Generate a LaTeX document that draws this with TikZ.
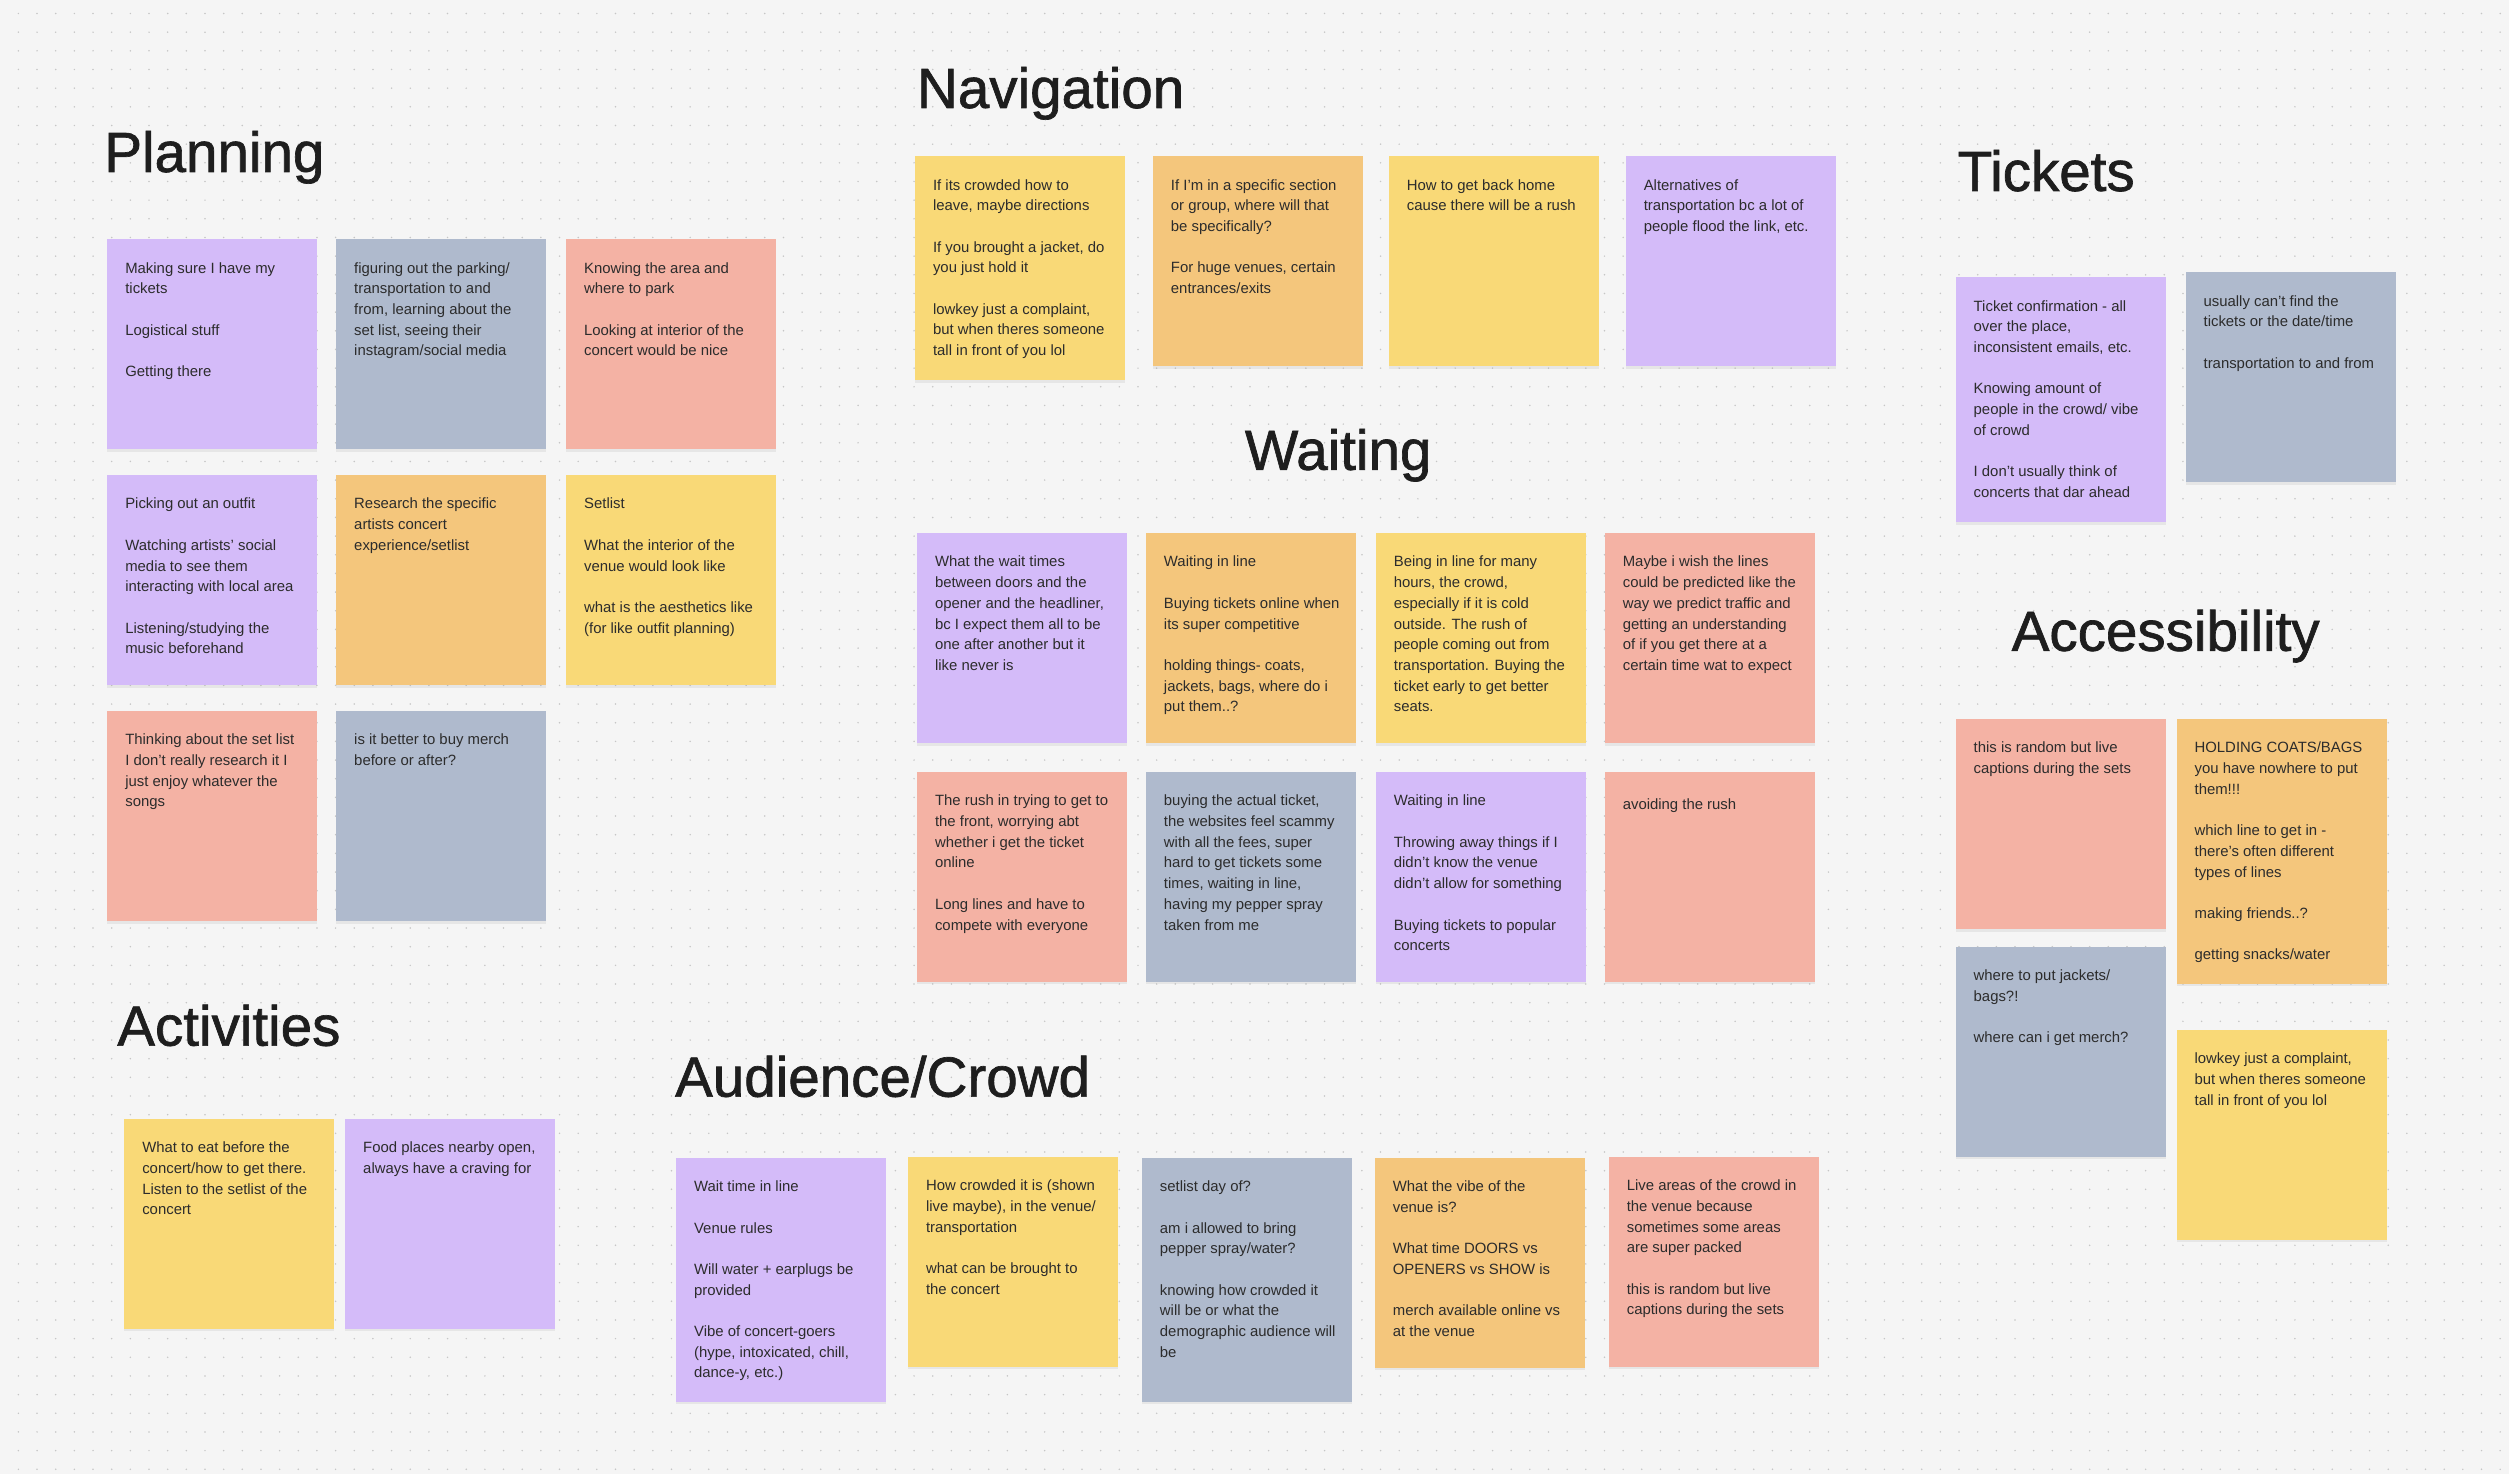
\documentclass[tikz,border=0pt]{standalone}
\usepackage{fontspec}
\setmainfont{Liberation Sans}
\newfontfamily\headfont[BoldFont={Liberation Sans}, BoldFeatures={FakeBold=1.2}]{Liberation Sans}
\usepackage{xcolor}
\usepackage{tikz}
\usetikzlibrary{positioning,shadows}

\definecolor{paper}{HTML}{F5F5F5}
\definecolor{dotgrey}{HTML}{C6C6C6}
\definecolor{ink}{HTML}{2C2C2C}
\definecolor{title}{HTML}{1E1E1E}
\definecolor{lilac}{HTML}{D4BBF9}
\definecolor{slate}{HTML}{AFBACD}
\definecolor{salmon}{HTML}{F4B2A4}
\definecolor{apricot}{HTML}{F4C67C}
\definecolor{butter}{HTML}{F9D977}

\newcommand{\gap}{\\[\baselineskip]}

\begin{document}
\begin{tikzpicture}[
    x=0.02cm, y=-0.02cm,
    note/.style={rectangle, anchor=north west, inner sep=0pt, minimum width=4.2cm, minimum height=4.2cm,
        drop shadow={opacity=0.12, shadow xshift=0pt, shadow yshift=-0.05cm}},
    memo/.style={inner sep=0pt, align=left, text=ink, font=\fontsize{8.48}{11.78}\selectfont, execute at begin node=\strut},
    heading/.style={anchor=base west, inner sep=0pt, text=title, font=\headfont\bfseries\fontsize{32.2}{36}\selectfont},
    dotrow/.style={dotgrey, line width=0.034cm, line cap=round, dash pattern=on 0pt off 0.3734cm}
]

% board
\fill[paper] (0,0) rectangle (2510,1474);
\foreach \k in {0,...,78}
    \draw[dotrow] (18.4,{13.5+\k*18.67}) -- (2510,{13.5+\k*18.67});

% Planning
\node[heading] (planning) at (104,172) {Planning};

\node[note, fill=lilac] (plan1) at (107,239) {};
\node[memo, below right=0.46cm and 0.36cm of plan1.north west] (plan1t) {Making sure I have my\\tickets\gap Logistical stuff\gap Getting there};
\node[note, fill=slate] (plan2) at (336,239) {};
\node[memo, below right=0.46cm and 0.36cm of plan2.north west] (plan2t) {figuring out the parking/\\transportation to and\\from, learning about the\\set list, seeing their\\instagram/social media};
\node[note, fill=salmon] (plan3) at (566,239) {};
\node[memo, below right=0.46cm and 0.36cm of plan3.north west] (plan3t) {Knowing the area and\\where to park\gap Looking at interior of the\\concert would be nice};

\node[note, fill=lilac] (plan4) at (107,475) {};
\node[memo, below right=0.46cm and 0.36cm of plan4.north west] (plan4t) {Picking out an outfit\gap Watching artists’ social\\media to see them\\interacting with local area\gap Listening/studying the\\music beforehand};
\node[note, fill=apricot] (plan5) at (336,475) {};
\node[memo, below right=0.46cm and 0.36cm of plan5.north west] (plan5t) {Research the specific\\artists concert\\experience/setlist};
\node[note, fill=butter] (plan6) at (566,475) {};
\node[memo, below right=0.46cm and 0.36cm of plan6.north west] (plan6t) {Setlist\gap What the interior of the\\venue would look like\gap what is the aesthetics like\\(for like outfit planning)};

\node[note, fill=salmon] (plan7) at (107,711) {};
\node[memo, below right=0.46cm and 0.36cm of plan7.north west] (plan7t) {Thinking about the set list\\I don’t really research it I\\just enjoy whatever the\\songs};
\node[note, fill=slate] (plan8) at (336,711) {};
\node[memo, below right=0.46cm and 0.36cm of plan8.north west] (plan8t) {is it better to buy merch\\before or after?};

% Navigation
\node[heading] (navigation) at (917,108) {Navigation};

\node[note, fill=butter, minimum height=4.48cm] (nav1) at (915,156) {};
\node[memo, below right=0.46cm and 0.36cm of nav1.north west] (nav1t) {If its crowded how to\\leave, maybe directions\gap If you brought a jacket, do\\you just hold it\gap lowkey just a complaint,\\but when theres someone\\tall in front of you lol};
\node[note, fill=apricot] (nav2) at (1153,156) {};
\node[memo, below right=0.46cm and 0.36cm of nav2.north west] (nav2t) {If I’m in a specific section\\or group, where will that\\be specifically?\gap For huge venues, certain\\entrances/exits};
\node[note, fill=butter] (nav3) at (1389,156) {};
\node[memo, below right=0.46cm and 0.36cm of nav3.north west] (nav3t) {How to get back home\\cause there will be a rush};
\node[note, fill=lilac] (nav4) at (1626,156) {};
\node[memo, below right=0.46cm and 0.36cm of nav4.north west] (nav4t) {Alternatives of\\transportation bc a lot of\\people flood the link, etc.};

% Waiting
\node[heading] (waiting) at (1245,470) {Waiting};

\node[note, fill=lilac] (wait1) at (917,533) {};
\node[memo, below right=0.46cm and 0.36cm of wait1.north west] (wait1t) {What the wait times\\between doors and the\\opener and the headliner,\\bc I expect them all to be\\one after another but it\\like never is};
\node[note, fill=apricot] (wait2) at (1146,533) {};
\node[memo, below right=0.46cm and 0.36cm of wait2.north west] (wait2t) {Waiting in line\gap Buying tickets online when\\its super competitive\gap holding things- coats,\\jackets, bags, where do i\\put them..?};
\node[note, fill=butter] (wait3) at (1376,533) {};
\node[memo, below right=0.46cm and 0.36cm of wait3.north west] (wait3t) {Being in line for many\\hours, the crowd,\\especially if it is cold\\outside. The rush of\\people coming out from\\transportation. Buying the\\ticket early to get better\\seats.};
\node[note, fill=salmon] (wait4) at (1605,533) {};
\node[memo, below right=0.46cm and 0.36cm of wait4.north west] (wait4t) {Maybe i wish the lines\\could be predicted like the\\way we predict traffic and\\getting an understanding\\of if you get there at a\\certain time wat to expect};

\node[note, fill=salmon] (wait5) at (917,772) {};
\node[memo, below right=0.46cm and 0.36cm of wait5.north west] (wait5t) {The rush in trying to get to\\the front, worrying abt\\whether i get the ticket\\online\gap Long lines and have to\\compete with everyone};
\node[note, fill=slate] (wait6) at (1146,772) {};
\node[memo, below right=0.46cm and 0.36cm of wait6.north west] (wait6t) {buying the actual ticket,\\the websites feel scammy\\with all the fees, super\\hard to get tickets some\\times, waiting in line,\\having my pepper spray\\taken from me};
\node[note, fill=lilac] (wait7) at (1376,772) {};
\node[memo, below right=0.46cm and 0.36cm of wait7.north west] (wait7t) {Waiting in line\gap Throwing away things if I\\didn’t know the venue\\didn’t allow for something\gap Buying tickets to popular\\concerts};
\node[note, fill=salmon] (wait8) at (1605,772) {};
\node[memo, below right=0.46cm and 0.36cm of wait8.north west] (wait8t) {avoiding the rush};

% Tickets
\node[heading] (tickets) at (1958,191) {Tickets};

\node[note, fill=lilac, minimum height=4.9cm] (tix1) at (1956,277) {};
\node[memo, below right=0.46cm and 0.36cm of tix1.north west] (tix1t) {Ticket confirmation - all\\over the place,\\inconsistent emails, etc.\gap Knowing amount of\\people in the crowd/ vibe\\of crowd\gap I don’t usually think of\\concerts that dar ahead};
\node[note, fill=slate] (tix2) at (2186,272) {};
\node[memo, below right=0.46cm and 0.36cm of tix2.north west] (tix2t) {usually can’t find the\\tickets or the date/time\gap transportation to and from};

% Accessibility
\node[heading] (access) at (2012,651) {Accessibility};

\node[note, fill=salmon] (acc1) at (1956,719) {};
\node[memo, below right=0.46cm and 0.36cm of acc1.north west] (acc1t) {this is random but live\\captions during the sets};
\node[note, fill=slate] (acc2) at (1956,947) {};
\node[memo, below right=0.46cm and 0.36cm of acc2.north west] (acc2t) {where to put jackets/\\bags?!\gap where can i get merch?};
\node[note, fill=apricot, minimum height=5.3cm] (acc3) at (2177,719) {};
\node[memo, below right=0.46cm and 0.36cm of acc3.north west] (acc3t) {HOLDING COATS/BAGS\\you have nowhere to put\\them!!!\gap which line to get in -\\there’s often different\\types of lines\gap making friends..?\gap getting snacks/water};
\node[note, fill=butter] (acc4) at (2177,1030) {};
\node[memo, below right=0.46cm and 0.36cm of acc4.north west] (acc4t) {lowkey just a complaint,\\but when theres someone\\tall in front of you lol};

% Activities
\node[heading] (activities) at (117,1046) {Activities};

\node[note, fill=butter] (act1) at (124,1119) {};
\node[memo, below right=0.46cm and 0.36cm of act1.north west] (act1t) {What to eat before the\\concert/how to get there.\\Listen to the setlist of the\\concert};
\node[note, fill=lilac] (act2) at (345,1119) {};
\node[memo, below right=0.46cm and 0.36cm of act2.north west] (act2t) {Food places nearby open,\\always have a craving for};

% Audience/Crowd
\node[heading] (crowd) at (675,1097) {Audience/Crowd};

\node[note, fill=lilac, minimum height=4.88cm] (crowd1) at (676,1158) {};
\node[memo, below right=0.46cm and 0.36cm of crowd1.north west] (crowd1t) {Wait time in line\gap Venue rules\gap Will water + earplugs be\\provided\gap Vibe of concert-goers\\(hype, intoxicated, chill,\\dance-y, etc.)};
\node[note, fill=butter] (crowd2) at (908,1157) {};
\node[memo, below right=0.46cm and 0.36cm of crowd2.north west] (crowd2t) {How crowded it is (shown\\live maybe), in the venue/\\transportation\gap what can be brought to\\the concert};
\node[note, fill=slate, minimum height=4.88cm] (crowd3) at (1142,1158) {};
\node[memo, below right=0.46cm and 0.36cm of crowd3.north west] (crowd3t) {setlist day of?\gap am i allowed to bring\\pepper spray/water?\gap knowing how crowded it\\will be or what the\\demographic audience will\\be};
\node[note, fill=apricot] (crowd4) at (1375,1158) {};
\node[memo, below right=0.46cm and 0.36cm of crowd4.north west] (crowd4t) {What the vibe of the\\venue is?\gap What time DOORS vs\\OPENERS vs SHOW is\gap merch available online vs\\at the venue};
\node[note, fill=salmon] (crowd5) at (1609,1157) {};
\node[memo, below right=0.46cm and 0.36cm of crowd5.north west] (crowd5t) {Live areas of the crowd in\\the venue because\\sometimes some areas\\are super packed\gap this is random but live\\captions during the sets};

\end{tikzpicture}
\end{document}
